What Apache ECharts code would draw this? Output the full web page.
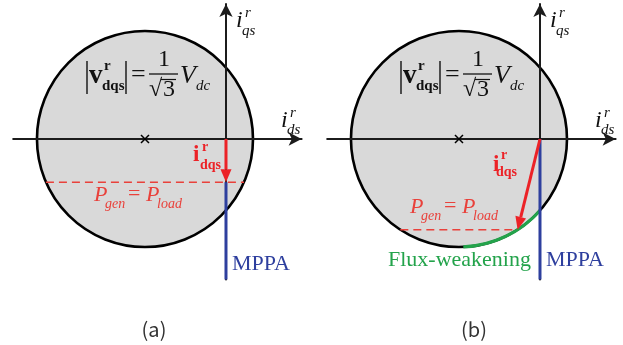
<!DOCTYPE html>
<html><head><meta charset="utf-8">
<script src="https://cdn.jsdelivr.net/npm/echarts@6/dist/echarts.min.js"></script>
<style>html,body{margin:0;padding:0;background:#fff}#c{width:623px;height:345px}</style>
</head><body><div id="c"></div>
<script>
// ---------- data (i_ds, i_qs, per unit of the voltage-limit radius) ----------
const panelLabels = ['(a)', '(b)'];
const limitCircleCenter = [-0.75, 0];
const limitCircleRadius = 1;
const axisRangeDs = [-1.97, 0.70];
const axisRangeQs = [-1.3, 1.25];
const currentVectorStart = [0, 0];
const currentVectorEnd = [[0, -0.4], [-0.207, -0.84]];
const powerLineA = [[-1.667, -0.4], [0.167, -0.4]];
const powerLineB = [[-1.293, -0.84], [-0.207, -0.84]];
const mppaLineA = [[0, -0.4], [0, -1.3]];
const mppaLineB = [[0, 0], [0, -1.3]];
const fluxArcDs = [-0.71, 0];   // i_ds span of the flux-weakening arc (panel b)

// ---------- styling ----------
const SERIF = '"Liberation Serif","Times New Roman",serif';
const RED = '#ec2227', RED_T = '#e9413b', BLUE = '#2e3f9e', GREEN = '#23a34b', AX = '#1c1c1c';
const PANEL_SHIFT = 314;

const chart = echarts.init(document.getElementById('c'), null, {renderer: 'canvas', width: 623, height: 345});

const grids = [0, 1].map(i => ({left: 13.2 + i * PANEL_SHIFT, top: 4, width: 288.4, height: 275.4}));
function xAx(i) {
  return {gridIndex: i, type: 'value', min: axisRangeDs[0], max: axisRangeDs[1], z: 3,
    axisLine: {show: true, onZero: true, symbol: ['none', 'arrow'], symbolSize: [10, 13], lineStyle: {color: AX, width: 2}},
    axisTick: {show: false}, axisLabel: {show: false}, splitLine: {show: false}};
}
function yAx(i) {
  return {gridIndex: i, type: 'value', min: axisRangeQs[0], max: axisRangeQs[1], z: 3,
    axisLine: {show: true, onZero: true, symbol: ['none', 'arrow'], symbolSize: [10, 13], lineStyle: {color: AX, width: 2}},
    axisTick: {show: false}, axisLabel: {show: false}, splitLine: {show: false}};
}

function circleSeries(i) {
  return {type: 'custom', xAxisIndex: i, yAxisIndex: i, z: 1, silent: true,
    data: [[limitCircleCenter[0], limitCircleCenter[1], limitCircleRadius]],
    renderItem: (p, api) => {
      const c = api.coord([api.value(0), api.value(1)]);
      const r = api.size([api.value(2), 0])[0];
      return {type: 'circle', shape: {cx: c[0], cy: c[1], r: r}, style: {fill: '#d9d9d9', stroke: '#000', lineWidth: 2.6}};
    }};
}
function crossSeries(i) {
  return {type: 'custom', xAxisIndex: i, yAxisIndex: i, z: 4, silent: true,
    data: [limitCircleCenter],
    renderItem: (p, api) => {
      const c = api.coord([api.value(0), api.value(1)]), h = 4;
      return {type: 'group', children: [
        {type: 'line', shape: {x1: c[0] - h, y1: c[1] - h, x2: c[0] + h, y2: c[1] + h}, style: {stroke: '#000', lineWidth: 1.5}},
        {type: 'line', shape: {x1: c[0] - h, y1: c[1] + h, x2: c[0] + h, y2: c[1] - h}, style: {stroke: '#000', lineWidth: 1.5}}
      ]};
    }};
}
function vectorSeries(i) {
  return {type: 'custom', xAxisIndex: i, yAxisIndex: i, z: 6, silent: true,
    data: [currentVectorStart.concat(currentVectorEnd[i])],
    renderItem: (p, api) => {
      const a = api.coord([api.value(0), api.value(1)]), b = api.coord([api.value(2), api.value(3)]);
      const dx = b[0] - a[0], dy = b[1] - a[1], L = Math.hypot(dx, dy), ux = dx / L, uy = dy / L;
      const hl = 13, hw = 5.5, base = [b[0] - ux * hl, b[1] - uy * hl];
      return {type: 'group', children: [
        {type: 'line', shape: {x1: a[0], y1: a[1], x2: base[0], y2: base[1]}, style: {stroke: RED, lineWidth: 3}},
        {type: 'polygon', shape: {points: [b, [base[0] - uy * hw, base[1] + ux * hw], [base[0] + uy * hw, base[1] - ux * hw]]}, style: {fill: RED}}
      ]};
    }};
}
function lineSeries(i, data, color, width, type, z) {
  return {type: 'line', xAxisIndex: i, yAxisIndex: i, data: data, symbol: 'none', silent: true, z: z,
    lineStyle: {color: color, width: width, type: type}};
}
const arcSeries = {type: 'custom', xAxisIndex: 1, yAxisIndex: 1, z: 5, silent: true,
  data: [[limitCircleCenter[0], limitCircleCenter[1], limitCircleRadius, fluxArcDs[0], fluxArcDs[1]]],
  renderItem: (p, api) => {
    const cx = api.value(0), cy = api.value(1), r = api.value(2);
    const c = api.coord([cx, cy]), rp = api.size([r, 0])[0];
    const a1 = Math.acos((api.value(4) - cx) / r), a2 = Math.acos((api.value(3) - cx) / r);
    return {type: 'arc', shape: {cx: c[0], cy: c[1], r: rp, startAngle: a1, endAngle: a2, clockwise: true},
      style: {stroke: GREEN, lineWidth: 3.2, fill: 'none'}};
  }};

// ---------- text helpers ----------
function txt(x, base, s, size, opt) {
  opt = opt || {};
  return {type: 'text', x: x, y: base - 0.34 * size, z: 100, silent: true,
    style: {text: s, font: (opt.italic ? 'italic ' : '') + (opt.bold ? 'bold ' : '') + size + 'px ' + (opt.family || SERIF),
      fill: opt.color || '#111', verticalAlign: 'middle', align: opt.align || 'left'}};
}
function seg(x1, y1, x2, y2, w, color) {
  return {type: 'line', z: 100, silent: true, shape: {x1, y1, x2, y2}, style: {stroke: color || '#111', lineWidth: w}};
}

const graphics = [];
[0, 1].forEach(i => {
  const o = i * PANEL_SHIFT;
  // |v_dqs| = 1/sqrt(3) V_dc
  graphics.push(seg(87 + o, 61, 87 + o, 94, 1.4));
  graphics.push(txt(89 + o, 85, 'v', 27, {bold: true}));
  graphics.push(txt(104 + o, 71, 'r', 15, {bold: true}));
  graphics.push(txt(102 + o, 91, 'dqs', 15, {bold: true}));
  graphics.push(seg(126 + o, 61, 126 + o, 94, 1.4));
  graphics.push(txt(131 + o, 84, '=', 26));
  graphics.push(txt(158 + o, 68, '1', 24));
  graphics.push(seg(149 + o, 74, 178 + o, 74, 1.3));
  graphics.push(txt(149 + o, 98, '\u221A', 24));
  graphics.push(seg(161 + o, 79.5, 176 + o, 79.5, 1.2));
  graphics.push(txt(163 + o, 98, '3', 24));
  graphics.push(txt(180 + o, 85, 'V', 26, {italic: true}));
  graphics.push(txt(196 + o, 91, 'dc', 15, {italic: true}));
  // axis names
  graphics.push(txt(236 + o, 29, 'i', 24, {italic: true}));
  graphics.push(txt(245 + o, 18, 'r', 15, {italic: true}));
  graphics.push(txt(242 + o, 36, 'qs', 15, {italic: true}));
  graphics.push(txt(281 + o, 129, 'i', 24, {italic: true}));
  graphics.push(txt(290 + o, 118, 'r', 15, {italic: true}));
  graphics.push(txt(287 + o, 135, 'ds', 15, {italic: true}));
  // panel label
  graphics.push(txt(154 + o + (i ? 6 : 0), 336, panelLabels[i], 20, {family: '"Noto Sans CJK JP","Noto Sans",sans-serif', color: '#333', align: 'center'}));
});
// current vector labels
[[193, 163, 202, 152, 200, 170], [493, 173, 501, 160, 496, 177]].forEach(p => {
  graphics.push(txt(p[0], p[1], 'i', 23, {bold: true, color: RED}));
  graphics.push(txt(p[2], p[3], 'r', 14, {bold: true, color: RED}));
  graphics.push(txt(p[4], p[5], 'dqs', 14, {bold: true, color: RED}));
});
// P_gen = P_load
[[94, 203], [410, 215]].forEach(p => {
  const x = p[0], b = p[1];
  graphics.push(txt(x, b, 'P', 22, {italic: true, color: RED_T}));
  graphics.push(txt(x + 11, b + 6, 'gen', 14, {italic: true, color: RED_T}));
  graphics.push(txt(x + 34, b - 1, '=', 22, {color: RED_T}));
  graphics.push(txt(x + 52, b, 'P', 22, {italic: true, color: RED_T}));
  graphics.push(txt(x + 63, b + 6, 'load', 14, {italic: true, color: RED_T}));
});
graphics.push(txt(232, 272, 'MPPA', 22, {color: BLUE}));
graphics.push(txt(546, 268, 'MPPA', 22, {color: BLUE}));
graphics.push(txt(388, 268, 'Flux-weakening', 22, {color: GREEN}));

chart.setOption({
  animation: false,
  grid: grids,
  xAxis: [xAx(0), xAx(1)],
  yAxis: [yAx(0), yAx(1)],
  series: [
    circleSeries(0), circleSeries(1),
    crossSeries(0), crossSeries(1),
    lineSeries(0, powerLineA, RED_T, 1.5, [8, 5], 4),
    lineSeries(1, powerLineB, RED_T, 1.5, [8, 5], 4),
    lineSeries(0, mppaLineA, BLUE, 3, 'solid', 5),
    lineSeries(1, mppaLineB, BLUE, 3, 'solid', 5),
    arcSeries,
    vectorSeries(0), vectorSeries(1)
  ],
  graphic: graphics
});
</script></body></html>
